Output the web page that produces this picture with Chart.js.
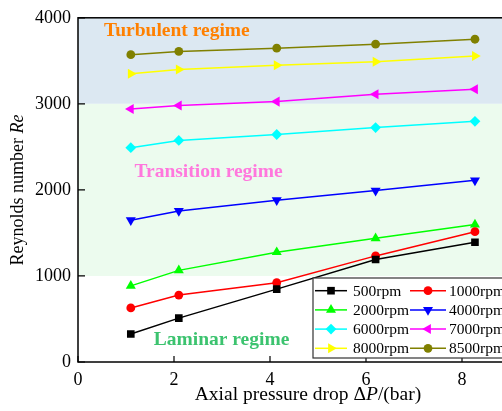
<!DOCTYPE html>
<html>
<head>
<meta charset="utf-8">
<script src="https://cdn.jsdelivr.net/npm/chart.js@4/dist/chart.umd.min.js"></script>
<style>
  html,body{margin:0;padding:0;background:#fff;overflow:hidden;}
  #wrap{width:530px;height:411px;}
</style>
</head>
<body>
<div id="wrap"><canvas id="c" width="530" height="411"></canvas></div>
<script>
/* ---- data ---- */
const pressureDrop = [1.1, 2.1, 4.14, 6.2, 8.27];
const speedLabels  = ['500rpm','1000rpm','2000rpm','4000rpm','6000rpm','7000rpm','8000rpm','8500rpm'];
const re500  = [326, 510, 847, 1191, 1391];
const re1000 = [628, 778, 922, 1233, 1514];
const re2000 = [885, 1065, 1276, 1437, 1598];
const re4000 = [1648, 1755, 1880, 1992, 2111];
const re6000 = [2491, 2575, 2644, 2724, 2797];
const re7000 = [2939, 2980, 3026, 3111, 3169];
const re8000 = [3349, 3399, 3448, 3490, 3555];
const re8500 = [3571, 3609, 3647, 3693, 3751];
const xTicks = [0, 2, 4, 6, 8];
const yTicks = [0, 1000, 2000, 3000, 4000];

/* regime bands and labels */
const laminarMax    = 1000;
const transitionMax = 3000;
const turbulentMax  = 4000;
const regimeNames   = ['Turbulent regime','Transition regime','Laminar regime'];
const regimeAt      = [[2.06,3850],[2.72,2207],[2.99,253]];

const SERIF = '"Liberation Serif","Times New Roman",serif';

const styles = [
  {color:'#000000', pointStyle:'rect',     radius:5.4, rotation:0},
  {color:'#ff0000', pointStyle:'circle',   radius:4.4, rotation:0},
  {color:'#00ff00', pointStyle:'triangle', radius:5.8, rotation:0},
  {color:'#0000ff', pointStyle:'triangle', radius:5.8, rotation:180},
  {color:'#00ffff', pointStyle:'rectRot',  radius:5.4, rotation:0},
  {color:'#ff00ff', pointStyle:'triangle', radius:5.8, rotation:270},
  {color:'#ffff00', pointStyle:'triangle', radius:5.8, rotation:90},
  {color:'#808000', pointStyle:'circle',   radius:4.4, rotation:0}
];
const seriesValues = [re500, re1000, re2000, re4000, re6000, re7000, re8000, re8500];

const datasets = seriesValues.map((vals,i)=>({
  label: speedLabels[i],
  data: vals.map((v,j)=>({x:pressureDrop[j], y:v})),
  borderColor: styles[i].color,
  backgroundColor: styles[i].color,
  borderWidth: 1.5,
  pointStyle: styles[i].pointStyle,
  pointRadius: styles[i].radius,
  pointRotation: styles[i].rotation,
  pointBorderWidth: 0,
  tension: 0
}));

/* background bands */
const bandsPlugin = {
  id:'bands',
  beforeDatasetsDraw(chart){
    const {ctx, chartArea:a, scales:{y}} = chart;
    ctx.save();
    ctx.fillStyle = '#dce8f2';
    ctx.fillRect(a.left, y.getPixelForValue(turbulentMax), a.right-a.left, y.getPixelForValue(transitionMax)-y.getPixelForValue(turbulentMax));
    ctx.fillStyle = '#ecfbee';
    ctx.fillRect(a.left, y.getPixelForValue(transitionMax), a.right-a.left, y.getPixelForValue(laminarMax)-y.getPixelForValue(transitionMax));
    /* regime labels */
    const cols = ['#ff8000','#ff77dd','#3cc36f'];
    ctx.font = 'bold 19.5px '+SERIF;
    ctx.textAlign = 'center'; ctx.textBaseline = 'middle';
    regimeNames.forEach((t,i)=>{
      ctx.fillStyle = cols[i];
      ctx.fillText(t, chart.scales.x.getPixelForValue(regimeAt[i][0]), y.getPixelForValue(regimeAt[i][1]));
    });
    ctx.restore();
  }
};

/* frame, inward ticks, axis titles, legend */
const framePlugin = {
  id:'frame',
  afterDraw(chart){
    const {ctx, chartArea:a, scales:{x,y}} = chart;
    ctx.save();
    ctx.strokeStyle = '#000'; ctx.lineWidth = 1.5;
    ctx.strokeRect(a.left, a.top, a.right-a.left, a.bottom-a.top);
    ctx.lineWidth = 1.2;
    ctx.beginPath();
    xTicks.forEach(v=>{ const px=x.getPixelForValue(v); ctx.moveTo(px,a.bottom); ctx.lineTo(px,a.bottom-6); });
    yTicks.forEach(v=>{ const py=y.getPixelForValue(v); ctx.moveTo(a.left,py); ctx.lineTo(a.left+7,py); });
    ctx.stroke();

    /* x title */
    ctx.fillStyle = '#000'; ctx.textBaseline = 'middle'; ctx.textAlign = 'left';
    const xParts = [['Axial pressure drop \u0394','normal'],['P','italic'],['/(bar)','normal']];
    drawParts(ctx, xParts, 19.5, a.left+230, 395);

    /* y title */
    ctx.save();
    ctx.translate(18, (a.top+a.bottom)/2);
    ctx.rotate(-Math.PI/2);
    drawParts(ctx, [['Reynolds number ','normal'],['Re','italic']], 18, 0, 0);
    ctx.restore();

    /* legend */
    const lx = 313, ly = 278, lh = 80;
    ctx.fillStyle = '#fff';
    ctx.fillRect(lx, ly, 240, lh);
    ctx.strokeStyle = '#333'; ctx.lineWidth = 1.2;
    ctx.strokeRect(lx, ly, 240, lh);
    ctx.font = '15.5px '+SERIF;
    chart.data.datasets.forEach((ds,i)=>{
      const col = i%2, row = Math.floor(i/2);
      const cy = ly + 12.7 + row*19.2;
      const x0 = col ? 410 : 315, x1 = col ? 446 : 347;
      ctx.strokeStyle = ds.borderColor; ctx.lineWidth = 1.5;
      ctx.beginPath(); ctx.moveTo(x0,cy); ctx.lineTo(x1,cy); ctx.stroke();
      ctx.fillStyle = ds.backgroundColor;
      Chart.helpers.drawPoint(ctx, {pointStyle:ds.pointStyle, radius:ds.pointRadius, rotation:ds.pointRotation, borderWidth:0}, (x0+x1)/2, cy);
      ctx.fillStyle = '#000'; ctx.textAlign='left'; ctx.textBaseline='middle';
      ctx.fillText(ds.label, col ? 449 : 353, cy+1);
    });
    ctx.restore();
  }
};

function drawParts(ctx, parts, size, cx, cy){
  let total = 0;
  parts.forEach(([t,st])=>{ ctx.font = st+' '+size+'px '+SERIF; total += ctx.measureText(t).width; });
  let px = cx - total/2;
  ctx.textAlign = 'left'; ctx.textBaseline = 'middle'; ctx.fillStyle = '#000';
  parts.forEach(([t,st])=>{ ctx.font = st+' '+size+'px '+SERIF; ctx.fillText(t,px,cy); px += ctx.measureText(t).width; });
}

new Chart(document.getElementById('c'),{
  type:'line',
  data:{datasets},
  options:{
    responsive:false, animation:false, devicePixelRatio:1,
    layout:{padding:{top:14,right:20,left:0,bottom:0}},
    plugins:{legend:{display:false},tooltip:{enabled:false}},
    scales:{
      x:{
        type:'linear', min:0, max:9,
        grid:{display:false, drawTicks:false}, border:{display:false},
        ticks:{stepSize:2, includeBounds:false, padding:7, color:'#000', font:{family:SERIF,size:18}, callback:v=>String(v)},
        afterFit:s=>{ s.height = 49; }
      },
      y:{
        min:0, max:4000,
        grid:{display:false, drawTicks:false}, border:{display:false},
        ticks:{stepSize:1000, padding:7, color:'#000', font:{family:SERIF,size:18}, callback:v=>String(v)},
        afterFit:s=>{ s.width = 78; }
      }
    }
  },
  plugins:[bandsPlugin, framePlugin]
});
</script>
</body>
</html>
